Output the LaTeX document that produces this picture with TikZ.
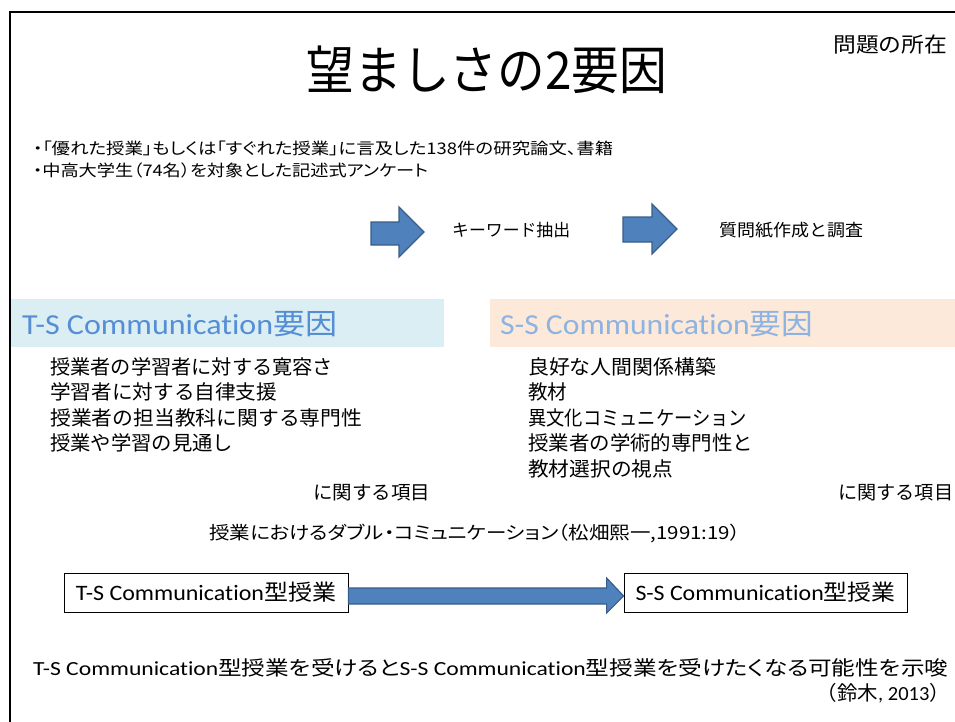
\documentclass[tikz,border=0pt]{standalone}
\usepackage{fontspec}
\usepackage{graphicx}
\setmainfont{Carlito}[Ligatures=NoCommon]
\newfontfamily\jp{Noto Sans CJK JP}
\newfontfamily\jpp{Noto Sans CJK JP}[RawFeature=+palt]
\usetikzlibrary{calc}
\definecolor{arrowfill}{HTML}{4F81BD}
\definecolor{arrowedge}{HTML}{385D8A}
\definecolor{tsband}{HTML}{DAEEF3}
\definecolor{ssband}{HTML}{FDE9D9}
\definecolor{tstext}{HTML}{558ED5}
\definecolor{sstext}{HTML}{8DB3E2}
\newcommand{\fw}[2]{\resizebox{#1pt}{\height}{#2}}
\newcommand{\fsz}[1]{\fontsize{#1}{#1}\selectfont}
\begin{document}
\begin{tikzpicture}[x=1pt,y=-1pt,
  txt/.style={inner sep=0pt, anchor=west},
  blockarrow/.style={fill=arrowfill, draw=arrowedge, line width=1.2pt, line join=miter},
  stagebox/.style={draw=black, line width=0.8pt, fill=white, inner sep=0pt, minimum height=39pt}]
\useasboundingbox (0,0) rectangle (955,722);
\clip (0,0) rectangle (955,722);

% header bands
\fill[tsband] (10,299) rectangle (444,347);
\fill[ssband] (490,299) rectangle (955,347);

% slide frame
\draw[line width=2.2pt] (10,730) -- (10,12) -- (960,12);

% title
\node[inner sep=0pt] (title) at (487,70) {\fsz{52}\jp\fw{360}{望ましさの2要因}};
\node[txt] (mondai) at (833,45) {\fsz{21}\jp\fw{114}{問題の所在}};

% bullets
\node[txt] (b1) at (33,148) {\fsz{16}\jpp\fw{580}{・「優れた授業」もしくは「すぐれた授業」に言及した138件の研究論文、書籍}};
\node[txt] (b2) at (33,170) {\fsz{16}\jpp\fw{395}{・中高大学生（74名）を対象とした記述式アンケート}};

% process arrows
\draw[blockarrow] (371,222) -- (399,222) -- (399,207) -- (424,232) -- (399,257) -- (399,245) -- (371,245) -- cycle;
\node[txt] (kw) at (452,230) {\fsz{17}\jp\fw{118}{キーワード抽出}};
\draw[blockarrow] (623,217) -- (652,217) -- (652,204) -- (677,229) -- (652,254) -- (652,242) -- (623,242) -- cycle;
\node[txt] (sq) at (719,230) {\fsz{17}\jp\fw{144}{質問紙作成と調査}};

% headers
\node[txt, text=tstext] (tshead) at (22,324) {\fsz{29}\fw{315}{T-S Communication{\jp 要因}}};
\node[txt, text=sstext] (sshead) at (500,324) {\fsz{29}\fw{313}{S-S Communication{\jp 要因}}};

% left items
\node[txt] (l1) at (50,367) {\fsz{20}\jp\fw{283}{授業者の学習者に対する寛容さ}};
\node[txt] (l2) at (50,392) {\fsz{20}\jp\fw{227}{学習者に対する自律支援}};
\node[txt] (l3) at (50,418) {\fsz{20}\jp\fw{312}{授業者の担当教科に関する専門性}};
\node[txt] (l4) at (50,443) {\fsz{20}\jp\fw{183}{授業や学習の見通し}};

% right items
\node[txt] (r1) at (528,367) {\fsz{20}\jp\fw{188}{良好な人間関係構築}};
\node[txt] (r2) at (528,392) {\fsz{20}\jp\fw{39}{教材}};
\node[txt] (r3) at (528,418) {\fsz{20}\jp\fw{219}{異文化コミュニケーション}};
\node[txt] (r4) at (528,443) {\fsz{20}\jp\fw{225}{授業者の学術的専門性と}};
\node[txt] (r5) at (528,469) {\fsz{20}\jp\fw{145}{教材選択の視点}};

\node[txt] (kl) at (313,493) {\fsz{19}\jp\fw{117}{に関する項目}};
\node[txt] (kr) at (838,493) {\fsz{19}\jp\fw{115}{に関する項目}};

\node[inner sep=0pt] (dbl) at (475,533) {\fsz{18}\jpp\fw{531}{授業におけるダブル・コミュニケーション（松畑熙一,1991:19）}};

% stage boxes
\node[stagebox, minimum width=284pt] (tsbox) at (206,592.5) {\fsz{22}\fw{260}{T-S Communication{\jp 型授業}}};
\node[stagebox, minimum width=283pt] (ssbox) at (765.5,592.5) {\fsz{22}\fw{260}{S-S Communication{\jp 型授業}}};
\draw[blockarrow] ($(tsbox.east)+(0,-4.5)$) -- ($(ssbox.west)+(-17,-4.5)$) -- ($(ssbox.west)+(-17,-14.5)$) -- ($(ssbox.west)+(0,3.5)$) -- ($(ssbox.west)+(-17,20.5)$) -- ($(ssbox.west)+(-17,11.5)$) -- ($(tsbox.east)+(0,11.5)$) -- cycle;

% conclusion
\node[txt] (concl) at (33,668) {\fsz{20}\fw{915}{T-S Communication{\jpp 型授業を受けると}S-S Communication{\jpp 型授業を受けたくなる可能性を示唆}}};
\node[inner sep=0pt, anchor=east] (suzuki) at (950,693) {\fsz{20}\fw{133}{{\jp （鈴木}, 2013{\jp ）}}};
\end{tikzpicture}
\end{document}
